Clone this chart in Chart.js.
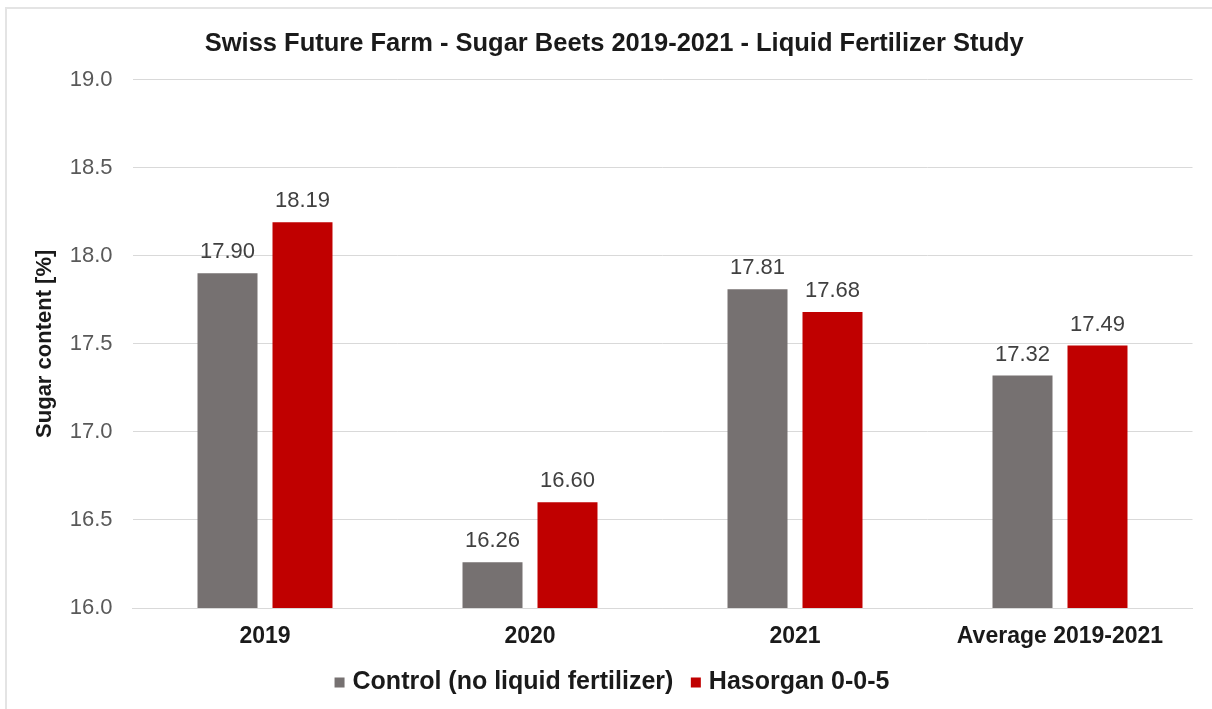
<!DOCTYPE html>
<html lang="en"><head>
<title>Sugar Beets</title>
<meta charset="utf-8">
<style type="text/css">
body { margin:0; background-color:#ffffff; }
#frame { position:absolute; left:5px; top:7px; width:1207px; height:702px;
         border-top:2px solid #e4e4e4; border-left:2px solid #e4e4e4; }
#chart1 { position:absolute; left:0; top:0; width:1212px; height:709px; }
</style>
<script src="https://cdn.jsdelivr.net/npm/chart.js"></script>
<script>
categories=['2019','2020','2021','Average 2019-2021'];
controlValues=[17.90,16.26,17.81,17.32];
hasorganValues=[18.19,16.60,17.68,17.49];
seriesNames=['Control (no liquid fertilizer)','Hasorgan 0-0-5'];
yTicks=[16.0,16.5,17.0,17.5,18.0,18.5,19.0];

valueLabels={id:'valueLabels',
  afterDatasetsDraw:function(chart) {
    ctx=chart.ctx; ctx.save();
    ctx.font='22px "Liberation Sans",Arial,sans-serif'; ctx.fillStyle='#404040';
    ctx.textAlign='center'; ctx.textBaseline='alphabetic';
    chart.data.datasets.forEach(function(ds,i) {
      chart.getDatasetMeta(i).data.forEach(function(el,j) {
        ctx.fillText(ds.data[j].toFixed(2),el.x,el.y-15); }); });
    ctx.restore(); }};

function initChart() {
  font='"Liberation Sans",Arial,sans-serif';
  data={labels:categories,datasets:[{
    label:seriesNames[0],data:controlValues,
    backgroundColor:'#767171',borderWidth:0,pointStyle:'rect',
    categoryPercentage:0.566,barPercentage:0.8},{
    label:seriesNames[1],data:hasorganValues,
    backgroundColor:'#c00000',borderWidth:0,pointStyle:'rect',
    categoryPercentage:0.566,barPercentage:0.8}]};

  config={type:'bar',data:data,plugins:[valueLabels],options:{
    responsive:false,animation:false,
    layout:{padding:{left:36,right:19.5,top:29,bottom:4}},
    scales:{
      x:{grid:{display:false,drawTicks:false},
        border:{display:true,color:'#d9d9d9',width:1},
        afterFit:function(scale){scale.height=40;},
        ticks:{padding:17,color:'#1a1a1a',font:{family:font,size:23,weight:'bold',lineHeight:1}}},
      y:{min:16,max:19,
        afterBuildTicks:function(scale){scale.ticks=yTicks.map(function(v){return {value:v};});},
        afterFit:function(scale){scale.width=96.5;},
        grid:{color:'#d9d9d9',drawTicks:false},border:{display:false},
        ticks:{padding:20,color:'#595959',font:{family:font,size:22},
          callback:function(v){return v.toFixed(1);}},
        title:{display:true,text:'Sugar content [%]',color:'#1a1a1a',
          padding:{top:-4,bottom:10},font:{family:font,size:22,weight:'bold'}}}},
    plugins:{
      title:{display:true,text:'Swiss Future Farm - Sugar Beets 2019-2021 - Liquid Fertilizer Study',
        color:'#1a1a1a',padding:{top:0,bottom:20},font:{family:font,size:25.5,weight:'bold'}},
      legend:{position:'bottom',
        labels:{usePointStyle:true,boxWidth:1,boxHeight:10,padding:22,color:'#1a1a1a',
          font:{family:font,size:25,weight:'bold'}}},
      tooltip:{enabled:false}}}};

  myChart=new Chart(document.getElementById('myChart'),config); }
</script></head>
<body onload="initChart();">
<div id="frame"></div>
<div id="chart1">
  <canvas id="myChart" width="1212" height="709"></canvas>
</div>
</body></html>
